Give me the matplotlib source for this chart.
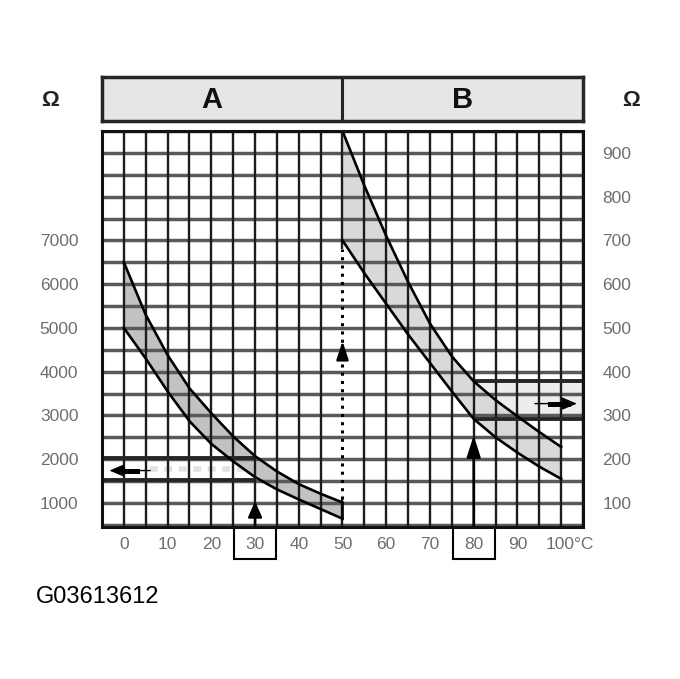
import matplotlib
matplotlib.use('Agg')
import matplotlib.pyplot as plt
from matplotlib.patches import Rectangle
import numpy as np

plt.rcParams['font.family'] = ['Liberation Sans', 'DejaVu Sans']

# sensor curve A, read on the left scale (ohm)
temp_A = [0, 5, 10, 15, 20, 25, 30, 35, 40, 45, 50]
upper_A = [6500, 5300, 4380, 3620, 3050, 2520, 2070, 1720, 1430, 1210, 1010]
lower_A = [5000, 4300, 3550, 2870, 2350, 1950, 1590, 1310, 1080, 860, 640]

# sensor curve B, read on the right scale (ohm)
temp_B = [50, 55, 60, 65, 70, 75, 80, 85, 90, 95, 100]
upper_B = [950, 825, 710, 605, 510, 435, 378, 335, 298, 262, 228]
lower_B = [700, 625, 555, 485, 420, 355, 292, 250, 215, 183, 155]

x_ticks = [0, 10, 20, 30, 40, 50, 60, 70, 80, 90]
x_labels = ['0', '10', '20', '30', '40', '50', '60', '70', '80', '90']
left_ticks = [1000, 2000, 3000, 4000, 5000, 6000, 7000]
right_ticks = [100, 200, 300, 400, 500, 600, 700, 800, 900]
panels = ['A', 'B']
code = 'G03613612'

# example readings shown with arrows
read_temp_A = 30
read_band_A = [1530, 2030]
read_temp_B = 80
b_scale = 10  # right scale x 10 = left scale

grid_temps = np.arange(-5, 106, 5)
grid_ohms = np.arange(500, 9501, 500)
y_lo, y_hi = 450, 9500
label_gray = '#6e6e6e'

fig = plt.figure(figsize=(6.8, 6.79), dpi=100)
ax = fig.add_axes([102 / 680, 1 - 527 / 679, 481 / 680, 396 / 679])
ax.set_xlim(-5, 105)
ax.set_ylim(y_lo, y_hi)

upper_B_l = np.array(upper_B) * b_scale
lower_B_l = np.array(lower_B) * b_scale

# highlighted readings (behind the grid)
band_B = [np.interp(read_temp_B, temp_B, lower_B_l), np.interp(read_temp_B, temp_B, upper_B_l)]
ax.fill_between([read_temp_B, 105], band_B[0], band_B[1], color='#ededed', lw=0, zorder=0.5)
ax.plot([6, 28], [np.mean(read_band_A)] * 2, color='#e2e2e2', lw=4, ls=(0, (1.4, 1.2)), zorder=0.6)

# bands
ax.fill_between(temp_A, lower_A, upper_A, color='#c2c2c2', lw=0, zorder=1)
ax.fill_between(temp_B, lower_B_l, upper_B_l, color='#d9d9d9', lw=0, zorder=1)

# grid
ax.hlines(grid_ohms, -5, 105, color='#5a5a5a', lw=2.5, zorder=1.5)
ax.vlines([t for t in grid_temps if t != 50], y_lo, y_hi, color='#1c1c1c', lw=1.7, zorder=1.6)
ax.vlines(50, y_lo, 1100, color='#1c1c1c', lw=1.7, zorder=1.6)
ax.vlines(50, 6800, y_hi, color='#1c1c1c', lw=1.7, zorder=1.6)
ax.plot([50, 50], [1100, 6800], color='k', lw=2.2, ls=(0, (1, 1.7)), zorder=2)

ax.hlines(read_band_A, -5, read_temp_A, color='#262626', lw=2.8, zorder=2)
ax.hlines(band_B, read_temp_B, 105, color='#262626', lw=2.8, zorder=2)

# curves
for t, v in [(temp_A, upper_A), (temp_A, lower_A), (temp_B, upper_B_l), (temp_B, lower_B_l)]:
    ax.plot(t, v, color='k', lw=1.9, zorder=3, solid_joinstyle='round')
ax.vlines(50, lower_A[-1], upper_A[-1], color='k', lw=1.9, zorder=3)

# arrows
def arrow(xy, xytext, hl, hw, lw=1.8):
    ax.annotate('', xy=xy, xytext=xytext,
                arrowprops=dict(arrowstyle='-|>,head_length=%s,head_width=%s' % (hl, hw),
                                color='k', lw=lw, shrinkA=0, shrinkB=0), zorder=4)

arrow((read_temp_A, 1040), (read_temp_A, y_lo), 0.95, 0.42)
arrow((read_temp_B, 2540), (read_temp_B, y_lo), 1.3, 0.42)
arrow((50, 4700), (50, 4300), 1.1, 0.36)
arrow((-3.3, 1740), (6, 1740), 0.9, 0.38, lw=1.0)
ax.plot([-1, 3], [1740, 1740], color='k', lw=3.6, zorder=4)
arrow((103.6, 3270), (94, 3270), 0.9, 0.38, lw=1.0)
ax.plot([97.5, 101.5], [3270, 3270], color='k', lw=3.6, zorder=4)

# axes styling
for s in ax.spines.values():
    s.set_linewidth(2.2)
    s.set_color('#111111')
    s.set_zorder(5)
ax.set_xticks(x_ticks)
ax.set_xticklabels(x_labels)
ax.set_yticks(left_ticks)
ax.set_yticklabels([str(v) for v in left_ticks])
ax.tick_params(axis='x', length=0, pad=7, labelsize=12.5, labelcolor=label_gray)
ax.tick_params(axis='y', length=0, pad=17, labelsize=12.5, labelcolor=label_gray)
ax.annotate('100°C', xy=(100, 0), xycoords=('data', 'axes fraction'), xytext=(-11.5, -7),
            textcoords='offset points', ha='left', va='top', fontsize=12.5, color=label_gray)

sec = ax.secondary_yaxis('right', functions=(lambda v: v / b_scale, lambda v: v * b_scale))
sec.set_yticks(right_ticks)
sec.set_yticklabels([str(v) for v in right_ticks])
sec.tick_params(length=0, pad=14, labelsize=12.5, labelcolor=label_gray)
sec.spines['right'].set_visible(False)

# boxes around the example temperatures
for t in [read_temp_A, read_temp_B]:
    ax.add_patch(Rectangle((t - 4.8, -0.08), 9.6, 0.08, transform=ax.get_xaxis_transform(),
                           fill=False, ec='k', lw=1.5, clip_on=False, zorder=5))

# header
hx = fig.add_axes([102 / 680, 1 - 121 / 679, 481 / 680, 44 / 679])
hx.set_xlim(-5, 105)
hx.set_ylim(0, 1)
hx.set_facecolor('#e6e6e6')
hx.set_xticks([])
hx.set_yticks([])
for s in hx.spines.values():
    s.set_linewidth(2.5)
    s.set_color('#262626')
hx.axvline(50, color='#262626', lw=2.2)
for name, xp in zip(panels, [20, 77.5]):
    hx.text(xp, 0.48, name, ha='center', va='center', fontsize=21, fontweight='bold', color='#111111')

fig.text(50 / 680, 1 - 101 / 679, 'Ω', ha='center', va='center', fontsize=16, fontweight='bold', color='#222222')
fig.text(631 / 680, 1 - 101 / 679, 'Ω', ha='center', va='center', fontsize=16, fontweight='bold', color='#222222')
fig.text(36 / 680, 1 - 603 / 679, code, ha='left', va='baseline', fontsize=17, color='black')

fig.savefig('out.png', dpi=100)
